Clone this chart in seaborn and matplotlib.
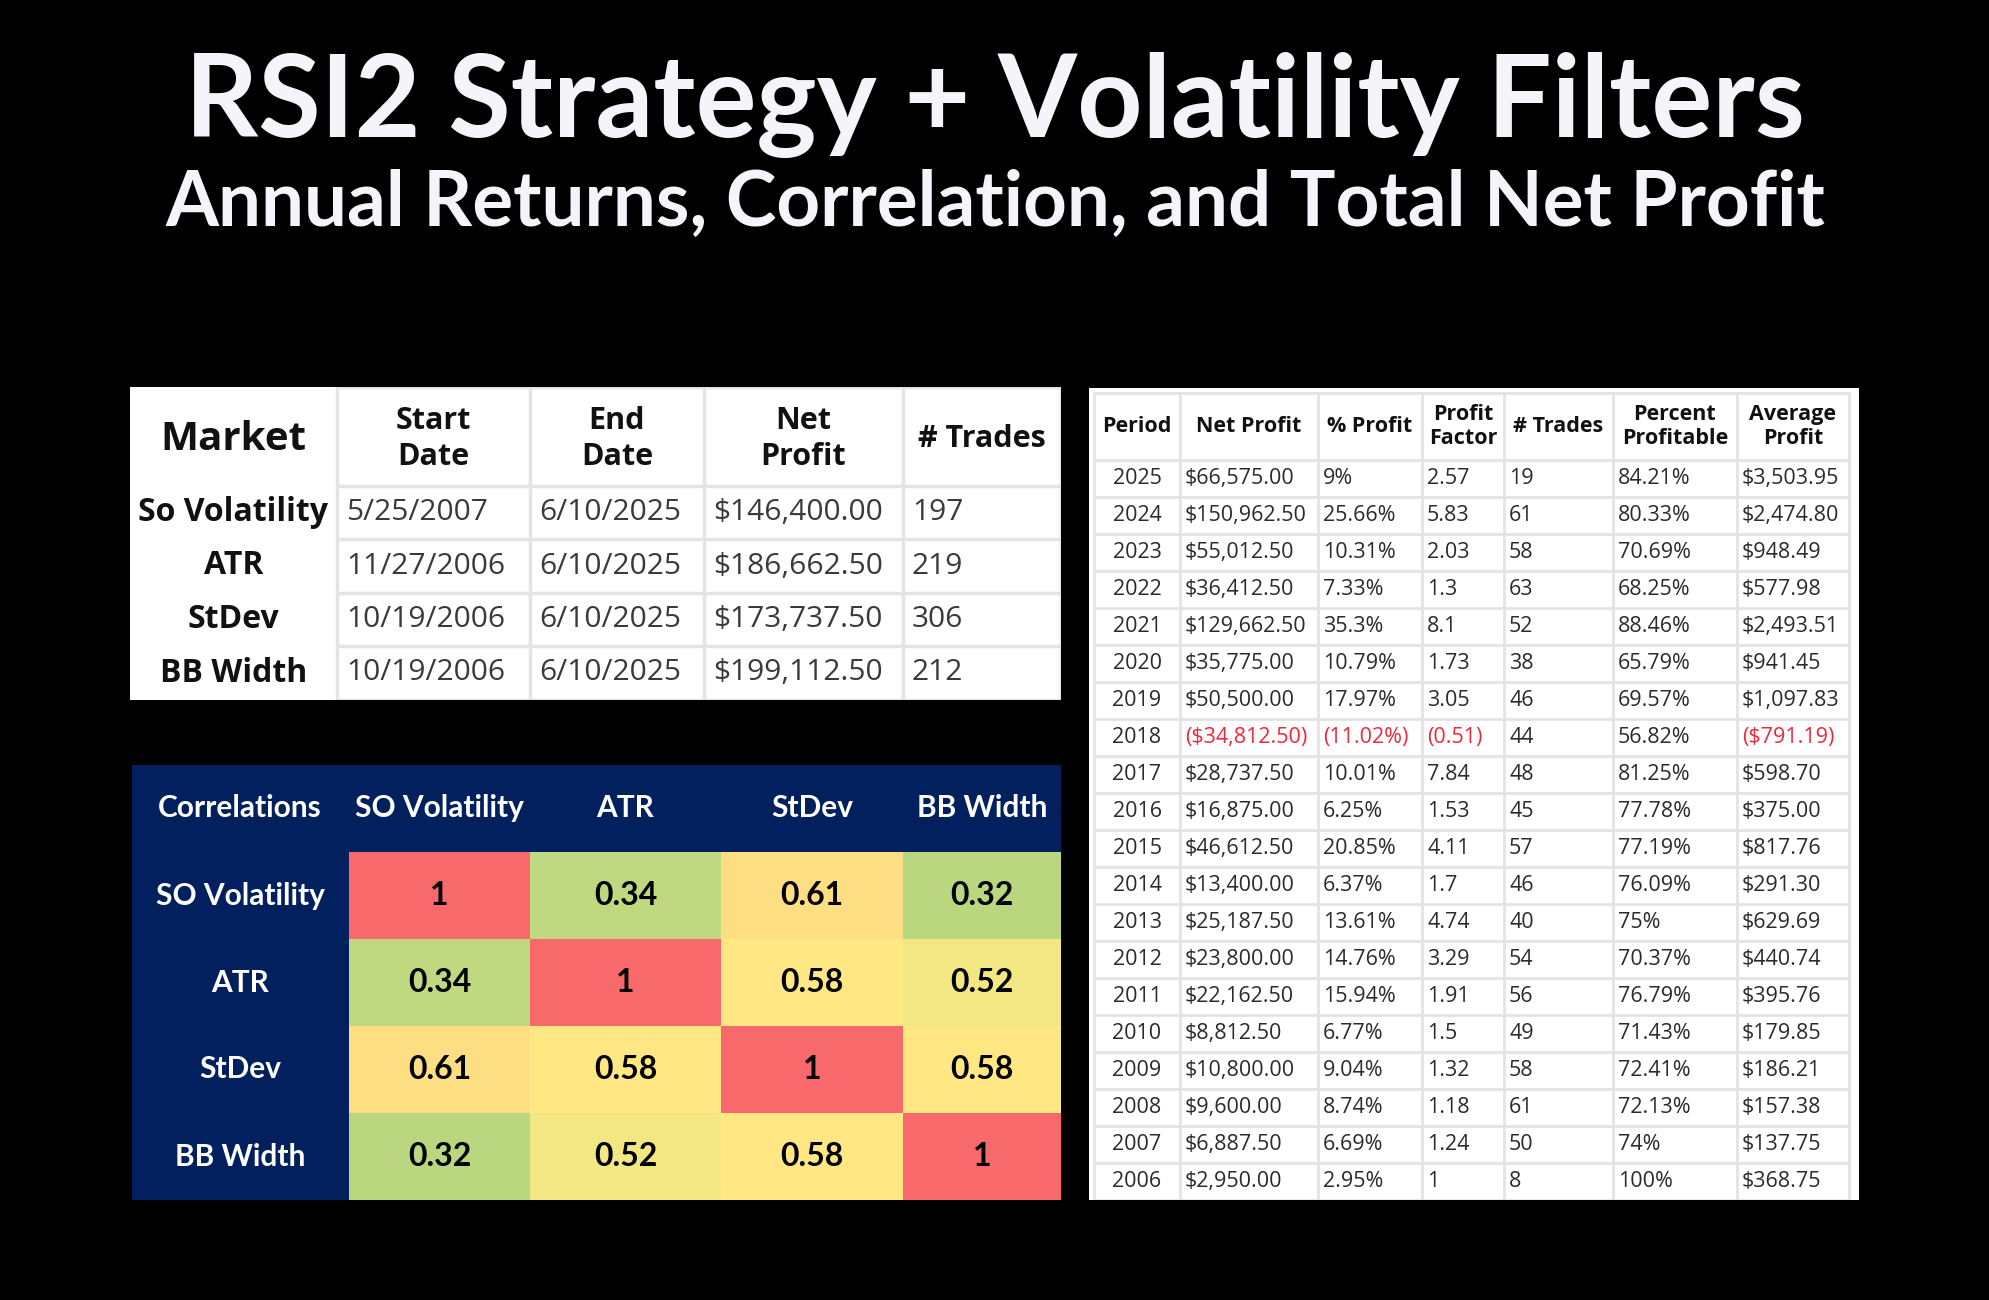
import numpy as np
import pandas as pd
import seaborn as sns
import matplotlib.pyplot as plt
from matplotlib.patches import Rectangle
from matplotlib.colors import LinearSegmentedColormap

W, H = 1990, 1300

# -------------------------------------------------
# Data
# -------------------------------------------------
markets = ["So Volatility", "ATR", "StDev", "BB Width"]
start_dates = ["5/25/2007", "11/27/2006", "10/19/2006", "10/19/2006"]
end_dates = ["6/10/2025", "6/10/2025", "6/10/2025", "6/10/2025"]
market_net_profit = [146400.00, 186662.50, 173737.50, 199112.50]
market_trades = [197, 219, 306, 212]

corr_labels = ["SO Volatility", "ATR", "StDev", "BB Width"]
corr_values = [
    [1, 0.34, 0.61, 0.32],
    [0.34, 1, 0.58, 0.52],
    [0.61, 0.58, 1, 0.58],
    [0.32, 0.52, 0.58, 1],
]

years = [2025, 2024, 2023, 2022, 2021, 2020, 2019, 2018, 2017, 2016,
         2015, 2014, 2013, 2012, 2011, 2010, 2009, 2008, 2007, 2006]
net_profit = [66575.00, 150962.50, 55012.50, 36412.50, 129662.50, 35775.00,
              50500.00, -34812.50, 28737.50, 16875.00, 46612.50, 13400.00,
              25187.50, 23800.00, 22162.50, 8812.50, 10800.00, 9600.00,
              6887.50, 2950.00]
pct_profit = [9, 25.66, 10.31, 7.33, 35.3, 10.79, 17.97, -11.02, 10.01, 6.25,
              20.85, 6.37, 13.61, 14.76, 15.94, 6.77, 9.04, 8.74, 6.69, 2.95]
profit_factor = [2.57, 5.83, 2.03, 1.3, 8.1, 1.73, 3.05, -0.51, 7.84, 1.53,
                 4.11, 1.7, 4.74, 3.29, 1.91, 1.5, 1.32, 1.18, 1.24, 1]
num_trades = [19, 61, 58, 63, 52, 38, 46, 44, 48, 45,
              57, 46, 40, 54, 56, 49, 58, 61, 50, 8]
pct_profitable = [84.21, 80.33, 70.69, 68.25, 88.46, 65.79, 69.57, 56.82, 81.25, 77.78,
                  77.19, 76.09, 75, 70.37, 76.79, 71.43, 72.41, 72.13, 74, 100]
avg_profit = [3503.95, 2474.80, 948.49, 577.98, 2493.51, 941.45, 1097.83, -791.19,
              598.70, 375.00, 817.76, 291.30, 629.69, 440.74, 395.76, 179.85,
              186.21, 157.38, 137.75, 368.75]

annual_headers = ["Period", "Net Profit", "% Profit", "Profit\nFactor",
                  "# Trades", "Percent\nProfitable", "Average\nProfit"]
market_headers = ["Market", "Start\nDate", "End\nDate", "Net\nProfit", "# Trades"]

# -------------------------------------------------
# Style
# -------------------------------------------------
sns.set_theme(style="white")
plt.rcParams["font.family"] = ["Open Sans", "DejaVu Sans"]

GRID = "#e4e4e4"
TXT = "#2b2b2b"
NEG = "#f0283c"
NAVY = "#03205e"


def money(v):
    s = f"${abs(v):,.2f}"
    return f"({s})" if v < 0 else s


def num(v, suffix=""):
    s = f"{abs(v):g}{suffix}"
    return f"({s})" if v < 0 else s


def px_axes(x0, y0, x1, y1):
    ax = fig.add_axes([x0 / W, 1 - y1 / H, (x1 - x0) / W, (y1 - y0) / H])
    ax.set_xlim(0, x1 - x0)
    ax.set_ylim(y1 - y0, 0)
    ax.set_axis_off()
    return ax


fig = plt.figure(figsize=(W / 100, H / 100), dpi=100, facecolor="black")

# -------------------------------------------------
# Title
# -------------------------------------------------
fig.text(0.5, 1 - 137 / H, "RSI2 Strategy + Volatility Filters", ha="center",
         va="baseline", fontsize=82, fontweight="bold", color="#f4f4fa", family="Lato")
fig.text(0.5, 1 - 226 / H, "Annual Returns, Correlation, and Total Net Profit",
         ha="center", va="baseline", fontsize=55, fontweight="bold", color="#f4f4fa",
         family="Lato")

# -------------------------------------------------
# Market summary table (top left)
# -------------------------------------------------
ax = px_axes(130, 387, 1061, 700)
ax.add_patch(Rectangle((0, 0), 931, 313, color="white", zorder=0))
m_cols = [0, 207, 400, 574, 773, 931]
m_rows = [0, 99, 152, 206, 259, 313]

for x in m_cols[1:]:
    ax.plot([x, x], [0, 313], color=GRID, lw=2.5, zorder=1)
for y in m_rows:
    ax.plot([207, 931], [y, y], color=GRID, lw=2.5, zorder=1)

for j, head in enumerate(market_headers):
    cx = (m_cols[j] + m_cols[j + 1]) / 2
    size = 29 if j == 0 else 22
    ax.text(cx, 52, head, ha="center", va="center", fontsize=size,
            fontweight="bold", color="#111111", linespacing=1.3)

m_table = pd.DataFrame({
    "start": start_dates,
    "end": end_dates,
    "net": [money(v) for v in market_net_profit],
    "trades": [str(v) for v in market_trades],
})
for i, name in enumerate(markets):
    cy = (m_rows[i + 1] + m_rows[i + 2]) / 2
    ax.text(m_cols[1] / 2, cy, name, ha="center", va="center", fontsize=23,
            fontweight="bold", color="#111111")
    for j, val in enumerate(m_table.iloc[i]):
        ax.text(m_cols[j + 1] + 9, cy, val, ha="left", va="center",
                fontsize=21.5, color="#3a3a3a")

# -------------------------------------------------
# Correlation heatmap (bottom left)
# -------------------------------------------------
bg = px_axes(132, 765, 1061, 1200)
bg.add_patch(Rectangle((0, 0), 929, 435, color=NAVY, zorder=0))
bg.text(108, 43, "Correlations", ha="center", va="center", fontsize=21.5,
        fontweight="bold", color="white", family="Lato")

corr_df = pd.DataFrame(corr_values, index=corr_labels, columns=corr_labels)
excel_cmap = LinearSegmentedColormap.from_list(
    "excel", [(0, "#63BE7B"), (0.57, "#FFEB84"), (1, "#F8696B")])

# the Excel columns are not all the same width, so one heatmap axes per column
heat_edges = [349, 530, 721, 903, 1061]
label_kw = dict(fontsize=21.5, fontweight="bold", color="white", family="Lato", rotation=0)
for j, col in enumerate(corr_labels):
    x0, x1 = heat_edges[j], heat_edges[j + 1]
    hax = fig.add_axes([x0 / W, 1 - 1200 / H, (x1 - x0) / W, (1200 - 852) / H])
    sns.heatmap(corr_df[[col]], ax=hax, cmap=excel_cmap, vmin=0, vmax=1,
                annot=True, fmt="g", cbar=False, linewidths=0,
                annot_kws=dict(fontsize=23, fontweight="bold", color="black",
                               family="Lato"))
    hax.xaxis.tick_top()
    hax.tick_params(axis="x", length=0, pad=31.7)
    hax.set_xticklabels([col], va="center", **label_kw)
    if j == 0:
        hax.tick_params(axis="y", length=0, pad=78.5)
        hax.set_yticklabels(corr_labels, ha="center", **label_kw)
    else:
        hax.set_yticks([])
    hax.set_xlabel("")
    hax.set_ylabel("")

# -------------------------------------------------
# Annual returns table (right)
# -------------------------------------------------
ax = px_axes(1089, 388, 1859, 1200)
ax.add_patch(Rectangle((0, 0), 770, 812, color="white", zorder=0))
a_cols = [5, 91, 229, 333, 415, 524, 648, 760]
head_top, head_bot, row_h = 5, 72, 37
a_rows = [head_top, head_bot] + [head_bot + row_h * (k + 1) for k in range(len(years))]

for x in a_cols:
    ax.plot([x, x], [head_top, a_rows[-1]], color=GRID, lw=2, zorder=1)
for y in a_rows:
    ax.plot([a_cols[0], a_cols[-1]], [y, y], color=GRID, lw=2, zorder=1)

for j, head in enumerate(annual_headers):
    cx = (a_cols[j] + a_cols[j + 1]) / 2
    ax.text(cx, (head_top + head_bot) / 2, head, ha="center", va="center",
            fontsize=15.5, fontweight="bold", color="#111111", linespacing=1.15)

annual = pd.DataFrame({
    "net": net_profit,
    "pct": pct_profit,
    "pf": profit_factor,
    "trades": num_trades,
    "win": pct_profitable,
    "avg": avg_profit,
})
for i, yr in enumerate(years):
    cy = head_bot + (i + 0.5) * row_h
    row = annual.iloc[i]
    cells = [
        (money(row["net"]), row["net"] < 0),
        (num(row["pct"], "%"), row["pct"] < 0),
        (num(row["pf"]), row["pf"] < 0),
        (str(int(row["trades"])), False),
        (num(row["win"], "%"), False),
        (money(row["avg"]), row["avg"] < 0),
    ]
    ax.text((a_cols[0] + a_cols[1]) / 2, cy, str(yr), ha="center", va="center",
            fontsize=15.5, color=TXT)
    for j, (val, neg) in enumerate(cells):
        ax.text(a_cols[j + 1] + 5, cy, val, ha="left", va="center",
                fontsize=15.5, color=NEG if neg else TXT)

fig.savefig("out.png", dpi=100, facecolor="black")
